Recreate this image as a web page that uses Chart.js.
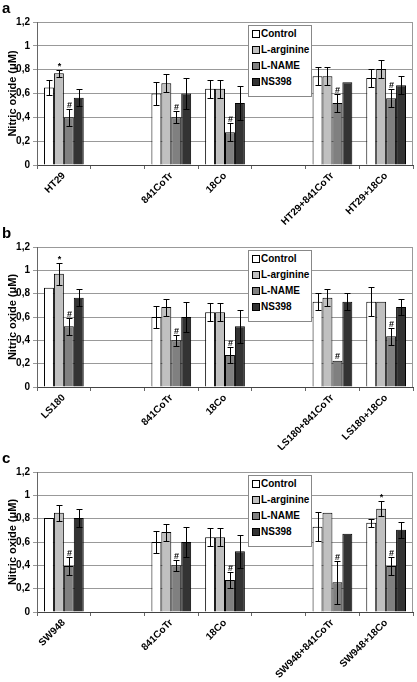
<!DOCTYPE html>
<html>
<head>
<meta charset="utf-8">
<script src="https://cdn.jsdelivr.net/npm/chart.js@4.4.0/dist/chart.umd.min.js"></script>
<style>
  body { margin: 0; background: #fff; }
  .panel { position: absolute; left: 0; width: 417px; }
  .letter { position: absolute; left: 2px; top: -1px; font: bold 15px "Liberation Sans", Arial, sans-serif; color: #000; }
  .legend { position: absolute; left: 248px; top: 25px; width: 64px; height: 72px; box-sizing: border-box;
            border: 1px solid #888; background: #fff; font: bold 10px "Liberation Sans", Arial, sans-serif; }
  .legend div { height: 16px; line-height: 16px; white-space: nowrap; }
  .legend span { display: inline-block; width: 6px; height: 6px; border: 1px solid #000; margin: 0 1px 0 3px; vertical-align: -1px; }
</style>
</head>
<body>
<div class="panel" id="pa" style="top:0"><canvas id="ca" width="417" height="225"></canvas><div class="letter">a</div><div class="legend" id="la"></div></div>
<div class="panel" id="pb" style="top:225px"><canvas id="cb" width="417" height="225"></canvas><div class="letter">b</div><div class="legend" id="lb"></div></div>
<div class="panel" id="pc" style="top:450px"><canvas id="cc" width="417" height="232"></canvas><div class="letter">c</div><div class="legend" id="lc"></div></div>
<script>
const seriesNames = ['Control', 'L-arginine', 'L-NAME', 'NS398'];
const seriesColors = ['#ffffff', '#c0c0c0', '#808080', '#333333'];
const yTickLabels = ['0', '0,2', '0,4', '0,6', '0,8', '1', '1,2'];

// panel a
const catsA = ['HT29', '', '841CoTr', '18Co', '', 'HT29+841CoTr', 'HT29+18Co'];
const controlA = [0.65, null, 0.60, 0.64, null, 0.745, 0.73];
const controlErrA = [0.06, null, 0.10, 0.075, null, 0.075, 0.075];
const arginineA = [0.77, null, 0.685, 0.64, null, 0.745, 0.805];
const arginineErrA = [0.03, null, 0.075, 0.075, null, 0.075, 0.073];
const nameA = [0.40, null, 0.40, 0.275, null, 0.52, 0.56];
const nameErrA = [0.07, null, 0.05, 0.075, null, 0.075, 0.075];
const ns398A = [0.565, null, 0.60, 0.52, null, 0.695, 0.67];
const ns398ErrA = [0.07, null, 0.13, 0.14, null, 0, 0.075];
const argMarksA = ['*', '', '', '', '', '', ''];
const nameMarksA = ['#', '', '#', '#', '', '#', '#'];

// panel b
const catsB = ['LS180', '', '841CoTr', '18Co', '', 'LS180+841CoTr', 'LS180+18Co'];
const controlB = [0.85, null, 0.60, 0.64, null, 0.73, 0.73];
const controlErrB = [0, null, 0.095, 0.076, null, 0.073, 0.124];
const arginineB = [0.97, null, 0.685, 0.64, null, 0.765, 0.73];
const arginineErrB = [0.095, null, 0.073, 0.076, null, 0.072, 0];
const nameB = [0.52, null, 0.40, 0.275, null, 0.225, 0.435];
const nameErrB = [0.072, null, 0.05, 0.07, null, 0, 0.071];
const ns398B = [0.765, null, 0.60, 0.52, null, 0.73, 0.685];
const ns398ErrB = [0.072, null, 0.13, 0.14, null, 0.073, 0.07];
const argMarksB = ['*', '', '', '', '', '', ''];
const nameMarksB = ['#', '', '#', '#', '', '#', '#'];

// panel c
const catsC = ['SW948', '', '841CoTr', '18Co', '', 'SW948+841CoTr', 'SW948+18Co'];
const controlC = [0.805, null, 0.60, 0.64, null, 0.73, 0.765];
const controlErrC = [0, null, 0.095, 0.076, null, 0.124, 0.033];
const arginineC = [0.85, null, 0.685, 0.64, null, 0.85, 0.885];
const arginineErrC = [0.069, null, 0.073, 0.076, null, 0, 0.065];
const nameC = [0.395, null, 0.40, 0.275, null, 0.255, 0.395];
const nameErrC = [0.075, null, 0.05, 0.07, null, 0.185, 0.077];
const ns398C = [0.805, null, 0.60, 0.52, null, 0.67, 0.705];
const ns398ErrC = [0.075, null, 0.13, 0.14, null, 0, 0.07];
const argMarksC = ['', '', '', '', '', '', '*'];
const nameMarksC = ['#', '', '#', '#', '', '#', '#'];

const FONT = '"Liberation Sans", Arial, sans-serif';

// error bars + significance marks
const errorBars = {
    id: 'errorBars',
    afterDatasetsDraw(chart) {
        const ctx = chart.ctx;
        const y = chart.scales.y;
        ctx.save();
        ctx.strokeStyle = '#000';
        ctx.lineWidth = 1;
        ctx.fillStyle = '#000';
        ctx.font = 'bold 9px ' + FONT;
        ctx.textAlign = 'center';
        ctx.textBaseline = 'alphabetic';
        chart.data.datasets.forEach((ds, i) => {
            const meta = chart.getDatasetMeta(i);
            ds.data.forEach((v, j) => {
                if (v == null) return;
                const x = Math.round(meta.data[j].x) + 0.5;
                const e = ds.errors[j] || 0;
                let top = y.getPixelForValue(v);
                if (e > 0) {
                    top = Math.round(y.getPixelForValue(v + e)) + 0.5;
                    const bot = Math.round(y.getPixelForValue(v - e)) + 0.5;
                    ctx.beginPath();
                    ctx.moveTo(x, top); ctx.lineTo(x, bot);
                    ctx.moveTo(x - 3, top); ctx.lineTo(x + 3, top);
                    ctx.moveTo(x - 3, bot); ctx.lineTo(x + 3, bot);
                    ctx.stroke();
                }
                const m = ds.marks && ds.marks[j];
                if (m) ctx.fillText(m, x, top - 2);
            });
        });
        ctx.restore();
    }
};

// grey frame on the right edge of the plot
const rightEdge = {
    id: 'rightEdge',
    beforeDatasetsDraw(chart) {
        const {ctx, chartArea} = chart;
        ctx.save();
        ctx.strokeStyle = '#999';
        ctx.lineWidth = 1;
        ctx.beginPath();
        ctx.moveTo(Math.round(chartArea.right) - 0.5, chartArea.top);
        ctx.lineTo(Math.round(chartArea.right) - 0.5, chartArea.bottom);
        ctx.stroke();
        ctx.restore();
    }
};

function buildLegend(id) {
    const box = document.getElementById(id);
    seriesNames.forEach((name, i) => {
        const row = document.createElement('div');
        const sw = document.createElement('span');
        sw.style.background = seriesColors[i];
        row.appendChild(sw);
        row.appendChild(document.createTextNode(name));
        box.appendChild(row);
    });
}

function makePanel(canvasId, cats, values, errors, argMarks, nameMarks, xAxisHeight) {
    const ctx = document.getElementById(canvasId).getContext('2d');
    return new Chart(ctx, {
        type: 'bar',
        data: {
            labels: cats,
            datasets: seriesNames.map((name, i) => ({
                label: name,
                data: values[i],
                errors: errors[i],
                marks: i === 1 ? argMarks : (i === 2 ? nameMarks : null),
                backgroundColor: seriesColors[i],
                borderColor: '#000',
                borderWidth: 1,
                categoryPercentage: 0.74,
                barPercentage: 1.0
            }))
        },
        options: {
            responsive: false,
            animation: false,
            layout: { padding: { top: 22, right: 4, left: 0, bottom: 0 } },
            plugins: {
                legend: { display: false },
                tooltip: { enabled: false }
            },
            scales: {
                x: {
                    grid: { drawOnChartArea: false, offset: true, tickLength: 4, color: '#666' },
                    border: { color: '#444' },
                    ticks: {
                        autoSkip: false, minRotation: 45, maxRotation: 45, padding: 1,
                        color: '#000', font: { family: FONT, size: 10, weight: 'bold' }
                    },
                    afterFit(scale) { scale.height = xAxisHeight; }
                },
                y: {
                    min: 0, max: 1.2,
                    grid: { color: '#999', tickLength: 4 },
                    border: { color: '#666' },
                    ticks: {
                        stepSize: 0.2, padding: 3, color: '#000',
                        font: { family: FONT, size: 10, weight: 'bold' },
                        callback: (v, i) => yTickLabels[i]
                    },
                    title: {
                        display: true, text: 'Nitric oxide (μM)', color: '#000',
                        font: { family: FONT, size: 11, weight: 'bold' },
                        padding: { top: 6, bottom: 0 }
                    },
                    afterFit(scale) { scale.width = 37; }
                }
            }
        },
        plugins: [rightEdge, errorBars]
    });
}

makePanel('ca', catsA, [controlA, arginineA, nameA, ns398A],
    [controlErrA, arginineErrA, nameErrA, ns398ErrA], argMarksA, nameMarksA, 60);
makePanel('cb', catsB, [controlB, arginineB, nameB, ns398B],
    [controlErrB, arginineErrB, nameErrB, ns398ErrB], argMarksB, nameMarksB, 63);
makePanel('cc', catsC, [controlC, arginineC, nameC, ns398C],
    [controlErrC, arginineErrC, nameErrC, ns398ErrC], argMarksC, nameMarksC, 70);

buildLegend('la');
buildLegend('lb');
buildLegend('lc');
</script>
</body>
</html>
